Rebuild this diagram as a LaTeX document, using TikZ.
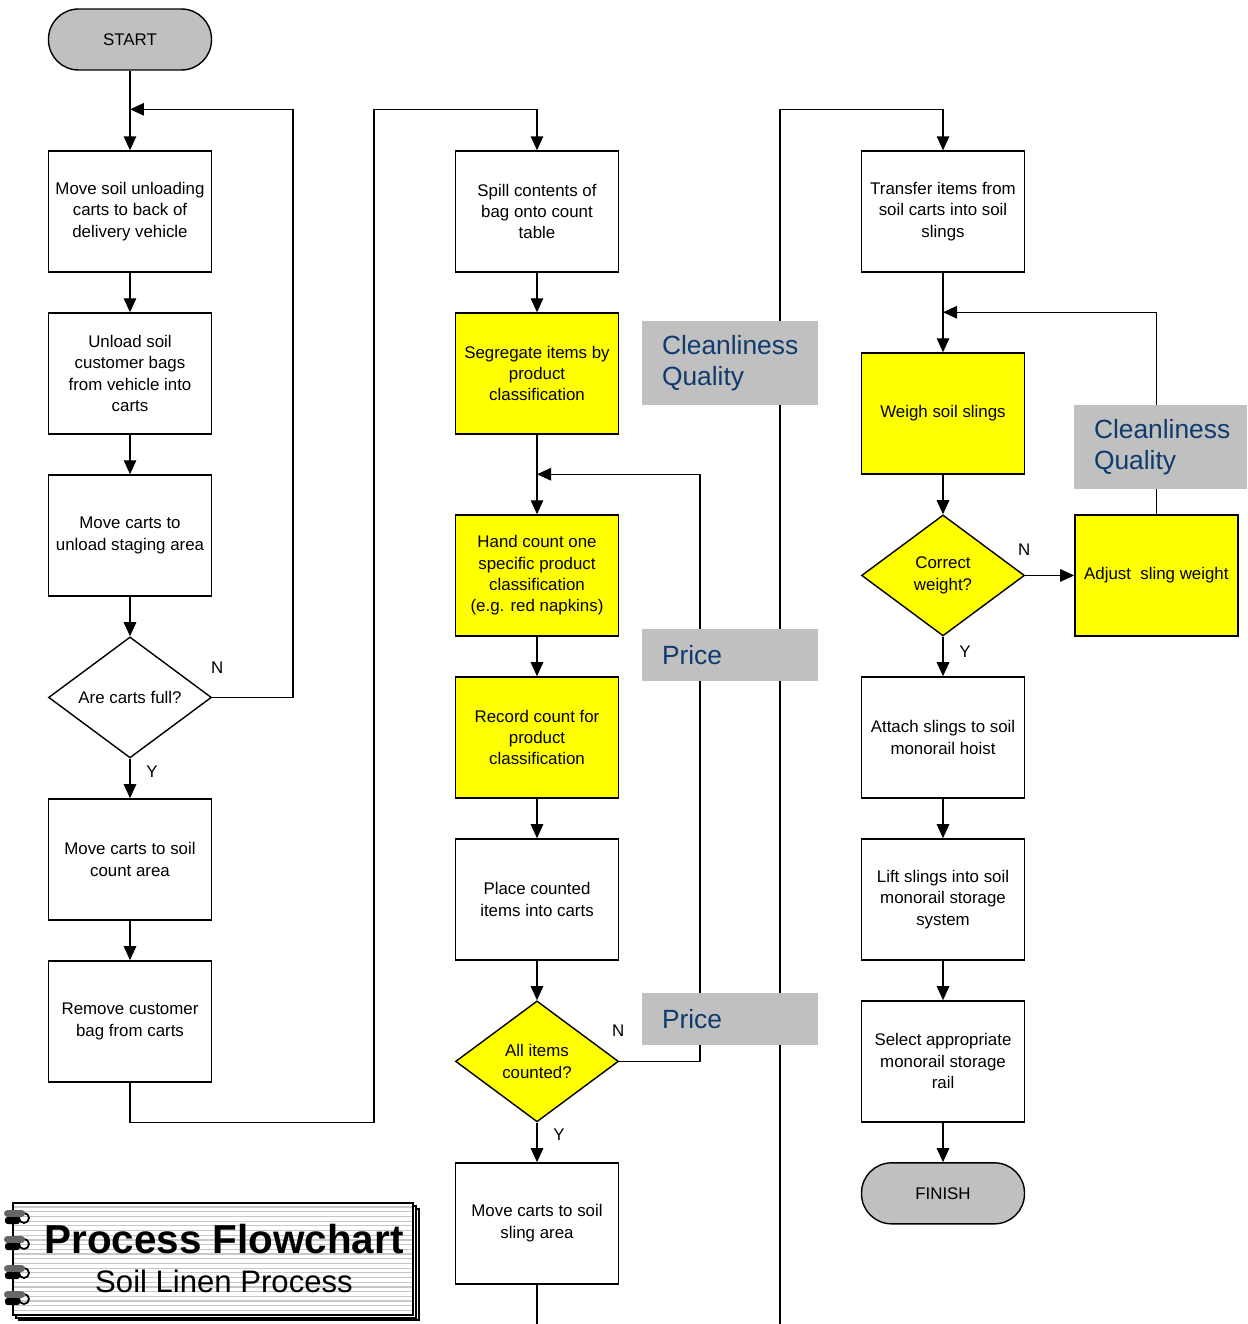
\documentclass[tikz,border=0pt]{standalone}
\usepackage{fontspec}
\setmainfont{Liberation Sans}
\usetikzlibrary{arrows.meta,positioning,shapes.geometric,calc}
\definecolor{shade}{HTML}{C0C0C0}
\definecolor{mark}{HTML}{FFFF00}
\definecolor{navytext}{HTML}{0E3A6E}

\begin{document}
\begin{tikzpicture}[x=0.02cm, y=-0.02cm,
  node distance=0.792cm,
  proc/.style={rectangle, draw, line width=0.8pt, minimum width=3.26cm,
               minimum height=2.42cm, align=center, inner sep=0pt,
               font=\fontsize{9.6}{12.2}\selectfont},
  hot/.style={proc, fill=mark},
  decide/.style={diamond, draw, line width=0.8pt, minimum width=3.26cm,
                 minimum height=2.42cm, aspect=1.34, inner sep=0pt,
                 align=center, font=\fontsize{9.6}{12.2}\selectfont},
  term/.style={rectangle, rounded corners=0.6cm, draw, line width=0.8pt,
               fill=shade, minimum width=3.26cm, minimum height=1.22cm,
               font=\fontsize{9.6}{12.2}\selectfont},
  flow/.style={-{Triangle[length=0.28cm, width=0.25cm]}, line width=0.8pt},
  wire/.style={line width=0.8pt},
  tag/.style={rectangle, fill=shade, inner xsep=0.4cm, inner ysep=0pt,
              align=left, text=navytext, font=\fontsize{15}{18}\selectfont},
  yn/.style={font=\fontsize{9.6}{12}\selectfont},
]
  \useasboundingbox (0,0) rectangle (1247,1324);

  \node[term] (start) at (130,39.5) {START};
  \node[proc] (cartsback) at (130,211.5) {Move soil unloading\\carts to back of\\delivery vehicle};
  \node[proc, below=of cartsback] (unloadbags) {Unload soil\\customer bags\\from vehicle into\\carts};
  \node[proc, below=of unloadbags] (staging) {Move carts to\\unload staging area};
  \node[decide, below=of staging] (full) {Are carts full?};
  \node[proc, below=of full] (countarea) {Move carts to soil\\count area};
  \node[proc, below=of countarea] (removebag) {Remove customer\\bag from carts};

  \node[proc] (spill) at (537,211.5) {Spill contents of\\bag onto count\\table};
  \node[hot, below=of spill] (segregate) {Segregate items by\\product\\classification};
  \node[hot, below=1.592cm of segregate] (handcount) {Hand count one\\specific product\\classification\\(e.g. red napkins)};
  \node[hot, below=of handcount] (record) {Record count for\\product\\classification};
  \node[proc, below=of record] (place) {Place counted\\items into carts};
  \node[decide, fill=mark, below=of place] (allcounted) {All items\\counted?};
  \node[proc, below=of allcounted] (slingarea) {Move carts to soil\\sling area};

  \node[proc] (transfer) at (943,211.5) {Transfer items from\\soil carts into soil\\slings};
  \node[hot, below=1.592cm of transfer] (weigh) {Weigh soil slings};
  \node[decide, fill=mark, below=of weigh] (weightok) {Correct\\weight?};
  \node[hot, right=0.98cm of weightok] (adjust) {Adjust\ \ sling weight};
  \node[proc, below=of weightok] (attach) {Attach slings to soil\\monorail hoist};
  \node[proc, below=of attach] (lift) {Lift slings into soil\\monorail storage\\system};
  \node[proc, below=of lift] (selectrail) {Select appropriate\\monorail storage\\rail};
  \node[term, below=of selectrail] (finish) {FINISH};

  \coordinate (j1) at ($(cartsback.north)+(0,-41)$);
  \coordinate (j2) at ($(handcount.north)+(0,-40)$);
  \coordinate (j3) at ($(weigh.north)+(0,-40)$);
  \coordinate (hop) at ($(spill.north)+(-163,-41)$);
  \coordinate (edge2) at ($(slingarea.south)+(0,40)$);
  \coordinate (edge3) at (780,1324);

  \draw[flow] (start) -- (cartsback);
  \draw[flow] (cartsback) -- (unloadbags);
  \draw[flow] (unloadbags) -- (staging);
  \draw[flow] (staging) -- (full);
  \draw[flow] (full.east) -- ++(81,0) |- (j1);
  \draw[flow] (full) -- (countarea);
  \draw[flow] (countarea) -- (removebag);
  \draw[flow] (removebag.south) -- ++(0,40) -| (hop) -| (spill.north);

  \draw[flow] (spill) -- (segregate);
  \draw[flow] (segregate) -- (handcount);
  \draw[flow] (handcount) -- (record);
  \draw[flow] (record) -- (place);
  \draw[flow] (place) -- (allcounted);
  \draw[flow] (allcounted.east) -- ++(81,0) |- (j2);
  \draw[flow] (allcounted) -- (slingarea);
  \draw[wire] (slingarea) -- (edge2);
  \draw[flow] (edge3) |- ($(transfer.north)+(0,-41)$) -- (transfer.north);

  \draw[flow] (transfer) -- (weigh);
  \draw[flow] (weigh) -- (weightok);
  \draw[flow] (weightok) -- (adjust);
  \draw[flow] (adjust.north) |- (j3);
  \draw[flow] (weightok) -- (attach);
  \draw[flow] (attach) -- (lift);
  \draw[flow] (lift) -- (selectrail);
  \draw[flow] (selectrail) -- (finish);

  \node[yn] (n1) at ([shift={(5,-30)}]full.east) {N};
  \node[yn] (y1) at ([shift={(22,13)}]full.south) {Y};
  \node[yn] (n2) at ([shift={(-1,-31)}]allcounted.east) {N};
  \node[yn] (y2) at ([shift={(22,12)}]allcounted.south) {Y};
  \node[yn] (n3) at ([shift={(-1,-26)}]weightok.east) {N};
  \node[yn] (y3) at ([shift={(22,15)}]weightok.south) {Y};

  \node[tag, text width=2.72cm, minimum height=1.68cm] (clean1) at (730,363) {Cleanliness\\Quality};
  \node[tag, text width=2.72cm, minimum height=1.04cm] (price1) at (730,655) {Price};
  \node[tag, text width=2.72cm, minimum height=1.04cm] (price2) at (730,1019) {Price};
  \node[tag, text width=2.66cm, minimum height=1.68cm] (clean2) at (1160.5,447) {Cleanliness\\Quality};

  \draw[fill=white, line width=0.6pt] (19,1209) rectangle (419,1320);
  \draw[fill=white, line width=0.6pt] (16,1206) rectangle (416,1318);
  \draw[fill=white, line width=0.6pt] (13,1203) rectangle (413,1315);
  \foreach \y in {1207,1211.7,...,1312}
    \draw[black!22, line width=0.7pt] (14,\y) -- (412,\y);
  \foreach \y in {1217,1243,1272,1298} {
    \draw[black, line width=1pt] (24,\y+1) circle (5);
    \fill[black!60, rounded corners=2pt] (4,\y-7) rectangle (25,\y);
    \fill[black, rounded corners=1.5pt] (5,\y) rectangle (20,\y+7);
  }
  \node[anchor=base, font=\fontsize{23}{26}\selectfont\bfseries] (title) at (224,1253) {Process Flowchart};
  \node[anchor=base, font=\fontsize{17.7}{20}\selectfont] (subtitle) at (224,1292) {Soil Linen Process};
\end{tikzpicture}
\end{document}
